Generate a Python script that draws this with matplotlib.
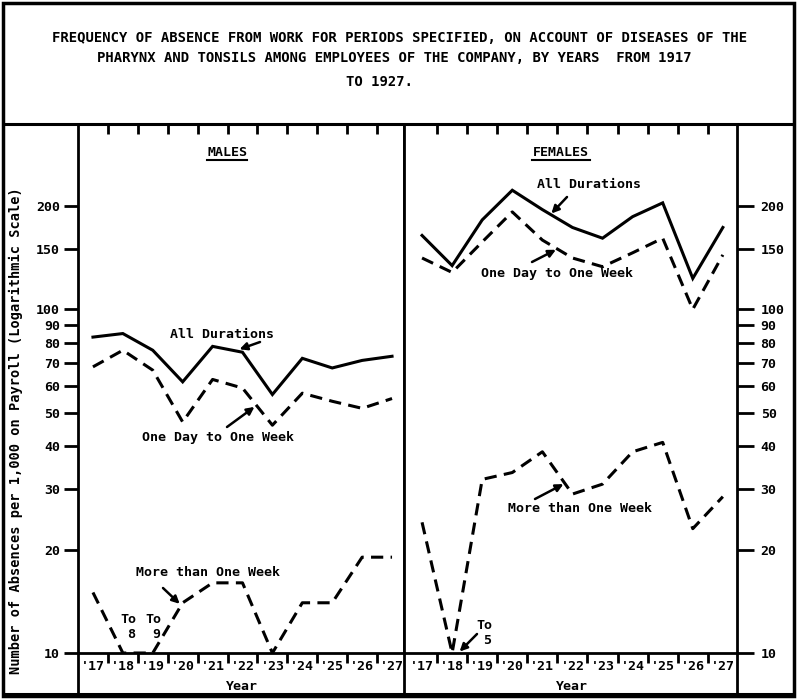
import numpy as np
import matplotlib
matplotlib.use("Agg")
import matplotlib.pyplot as plt
from matplotlib.lines import Line2D
from matplotlib.patches import Rectangle
from matplotlib.ticker import FixedLocator, FixedFormatter, NullLocator

plt.rcParams['font.family'] = ['DejaVu Sans Mono']
plt.rcParams['font.weight'] = 'bold'

# ---- data -----------------------------------------------------------------
years = [1917, 1918, 1919, 1920, 1921, 1922, 1923, 1924, 1925, 1926, 1927]
year_labels = ["'17", "'18", "'19", "'20", "'21", "'22", "'23", "'24", "'25", "'26", "'27"]

male_all = [83, 85, 76, 61.5, 78, 75, 56.5, 72, 67.5, 71, 73]
male_short = [68, 76, 66.5, 47, 62.5, 59, 46, 57, 54, 51.5, 55]
male_long = [15, 8, 9, 14, 16, 16, 10, 14, 14, 19, 19]

female_all = [164, 134, 182, 222, 195, 173, 161, 186, 204, 123, 173]
female_short = [141, 128, 157, 192, 159, 141, 133, 146, 161, 100, 144]
female_long = [24, 5, 32, 33.5, 38.5, 29, 31, 38.5, 41, 23, 28.5]

y_ticks = [10, 20, 30, 40, 50, 60, 70, 80, 90, 100, 150, 200]
y_tick_labels = [str(v) for v in y_ticks]

title_lines = [
    "FREQUENCY OF ABSENCE FROM WORK FOR PERIODS SPECIFIED, ON ACCOUNT OF DISEASES OF THE",
    "PHARYNX AND TONSILS AMONG EMPLOYEES OF THE COMPANY, BY YEARS  FROM 1917",
    "TO 1927.",
]
y_label = "Number of Absences per 1,000 on Payroll (Logarithmic Scale)"

# ---- figure ---------------------------------------------------------------
W, H = 797, 699
fig = plt.figure(figsize=(W / 100, H / 100), dpi=100)
fig.patch.set_facecolor('white')

def fx(px):
    return px / W

def fy(py):
    return 1 - py / H

def pix(px, py):
    return (px, H - py)

AX_TOP, AX_BOT = 124, 653
axL = fig.add_axes([fx(78), fy(AX_BOT), fx(404) - fx(78), fy(AX_TOP) - fy(AX_BOT)])
axR = fig.add_axes([fx(404), fy(AX_BOT), fx(737) - fx(404), fy(AX_TOP) - fy(AX_BOT)])

solid = dict(color='black', lw=2.2, solid_joinstyle='miter', clip_on=True)
dashed = dict(color='black', lw=2.2, linestyle=(0, (4.0, 2.4)), dash_capstyle='butt', clip_on=True)

YMIN, YMAX = 10, 346
floor = lambda v: np.maximum(np.asarray(v, dtype=float), YMIN)

for ax, xl in ((axL, (1916.5, 1927.4)), (axR, (1916.4, 1927.47))):
    ax.set_yscale('log')
    ax.set_ylim(YMIN, YMAX)
    ax.set_xlim(*xl)
    ax.yaxis.set_major_locator(FixedLocator(y_ticks))
    ax.yaxis.set_major_formatter(FixedFormatter(y_tick_labels))
    ax.yaxis.set_minor_locator(NullLocator())
    ax.xaxis.set_major_locator(FixedLocator([y + 0.5 for y in years[:-1]]))
    ax.xaxis.set_major_formatter(FixedFormatter([''] * (len(years) - 1)))
    ax.xaxis.set_minor_locator(FixedLocator(years))
    ax.xaxis.set_minor_formatter(FixedFormatter(year_labels))
    ax.tick_params(axis='x', which='major', direction='out', length=7, width=2)
    ax.tick_params(axis='x', which='minor', length=0, pad=5, labelsize=9.5)
    for s in ax.spines.values():
        s.set_linewidth(2.0)
    top = ax.secondary_xaxis('top')
    top.xaxis.set_major_locator(FixedLocator([y + 0.5 for y in years[:-1]]))
    top.tick_params(direction='in', length=7, width=2, labeltop=False)
    top.spines['top'].set_linewidth(2.0)

axL.tick_params(axis='y', which='major', direction='out', length=10, width=2,
                labelsize=9.5, pad=3, left=True, right=False)
axR.yaxis.tick_right()
axR.tick_params(axis='y', which='major', direction='out', length=12, width=2,
                labelsize=9.5, pad=5, left=False, right=True)

# males
axL.plot(years, male_all, **solid)
axL.plot(years, male_short, **dashed)
axL.plot(years, floor(male_long), **dashed)

# females
axR.plot(years, female_all, **solid)
axR.plot(years, female_short, **dashed)
axR.plot(years, floor(female_long), **dashed)

# ---- labels and pointers -------------------------------------------------
txt = dict(fontsize=9.5, fontweight='bold', ha='center', va='center')
arrow = dict(arrowstyle='-|>', color='black', lw=1.8, mutation_scale=11, shrinkA=0, shrinkB=0)

def label(ax, text, tpos, tip=None, tail=None):
    ax.annotate(text, xy=tpos, xycoords='figure pixels', **txt)
    if tip is not None:
        ax.annotate('', xy=tip, xycoords='data', xytext=pix(*tail),
                    textcoords='figure pixels', arrowprops=arrow)

label(axL, 'All Durations', pix(222, 334), (1921.9, 76.5), (260, 342))
label(axL, 'One Day to One Week', pix(218, 437), (1922.4, 52), (227, 427))
label(axL, 'More than One Week', pix(208, 573), (1919.9, 13.9), (163, 588))
label(axL, 'To\n 8', pix(128, 627))
label(axL, 'To\n 9', pix(153, 627))

label(axR, 'All Durations', pix(589, 185), (1921.3, 190), (567, 197))
label(axR, 'One Day to One Week', pix(557, 273), (1921.45, 149), (532, 262))
label(axR, 'More than One Week', pix(580, 508), (1921.7, 31), (535, 499))
label(axR, 'To\n 5', pix(484, 633), (1918.25, 10.1), (477, 634))

for ax, name, cx in ((axL, 'MALES', 227), (axR, 'FEMALES', 561)):
    ax.annotate(name, xy=pix(cx, 152), xycoords='figure pixels', **txt)
    half = len(name) * 4.1
    fig.add_artist(Line2D([fx(cx - half), fx(cx + half)], [fy(160), fy(160)],
                          color='black', lw=1.5))

fig.text(fx(242), fy(686), 'Year', **txt)
fig.text(fx(572), fy(687), 'Year', **txt)
fig.text(fx(16), fy(431), y_label, rotation=90, fontsize=9.8, fontweight='bold',
         ha='center', va='center')

for line, y, cx in zip(title_lines, (38, 58, 82), (400, 394, 380)):
    fig.text(fx(cx), fy(y), line, fontsize=10, fontweight='bold', ha='center', va='center')

# ---- frame ---------------------------------------------------------------
for xpix in (78, 404, 737):
    fig.add_artist(Line2D([fx(xpix), fx(xpix)], [fy(AX_BOT), fy(694)], color='black', lw=2.0))
fig.add_artist(Line2D([fx(4), fx(793)], [fy(AX_TOP), fy(AX_TOP)], color='black', lw=2.2))
fig.add_artist(Line2D([fx(4), fx(793)], [fy(694), fy(694)], color='black', lw=2.2))
fig.add_artist(Rectangle((fx(3), fy(696)), fx(791), fy(3) - fy(696), fill=False,
                         edgecolor='black', lw=2.5, transform=fig.transFigure))

fig.savefig('out.png', dpi=100, facecolor='white')
